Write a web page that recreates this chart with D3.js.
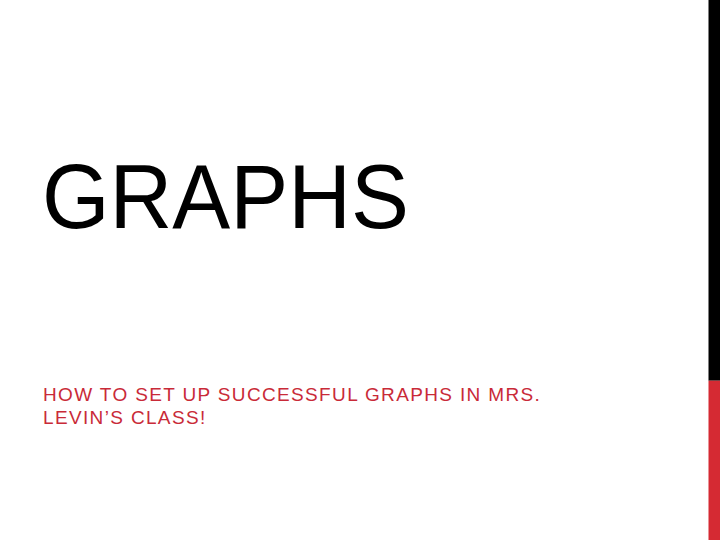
<!DOCTYPE html>
<html>
<head>
<meta charset="utf-8">
<script src="https://cdn.jsdelivr.net/npm/d3@7"></script>
<style>
  html, body { margin: 0; padding: 0; background: #fff; }
  svg { display: block; }
</style>
</head>
<body>
<div id="slide"></div>
<script>
// slide text
var titleLines = ["GRAPHS"];
var subtitleLines = ["HOW TO SET UP SUCCESSFUL GRAPHS IN MRS.", "LEVIN\u2019S CLASS!"];
// side band: share of the height for each block, top to bottom
var bandShares = [0.705, 0.295];
var bandColors = ["#000000", "#d52a33"];

const width = 720, height = 540;

var svg = d3.select("#slide").append("svg")
    .attr("width", width)
    .attr("height", height)
    .attr("viewBox", [0, 0, width, height]);

svg.append("rect")
    .attr("width", width)
    .attr("height", height)
    .attr("fill", "#ffffff");

// vertical band on the right
var y = d3.scaleLinear().domain([0, 1]).range([0, height]);
var cum = d3.cumsum(bandShares);
svg.append("g").selectAll("rect")
    .data(bandShares)
    .enter()
    .append("rect")
    .attr("x", 708.5)
    .attr("width", width - 708.5)
    .attr("y", (d, i) => y(cum[i] - d))
    .attr("height", d => y(d))
    .attr("fill", (d, i) => bandColors[i]);

// title, squeezed a little to look like the narrower Helvetica
svg.append("g")
    .attr("transform", "translate(42,228) scale(0.955,1)")
    .selectAll("text")
    .data(titleLines)
    .enter()
    .append("text")
    .attr("x", 0)
    .attr("y", (d, i) => i * 100)
    .attr("font-family", "'Liberation Sans', Arial, sans-serif")
    .attr("font-size", 91)
    .attr("fill", "#000")
    .text(d => d);

// subtitle
svg.append("g").selectAll("text")
    .data(subtitleLines)
    .enter()
    .append("text")
    .attr("x", 43)
    .attr("y", (d, i) => 400.5 + i * 23.4)
    .attr("font-family", "'Liberation Sans', Arial, sans-serif")
    .attr("font-size", 19)
    .attr("letter-spacing", 1.35)
    .attr("fill", "#c92a38")
    .text(d => d);
</script>
</body>
</html>
